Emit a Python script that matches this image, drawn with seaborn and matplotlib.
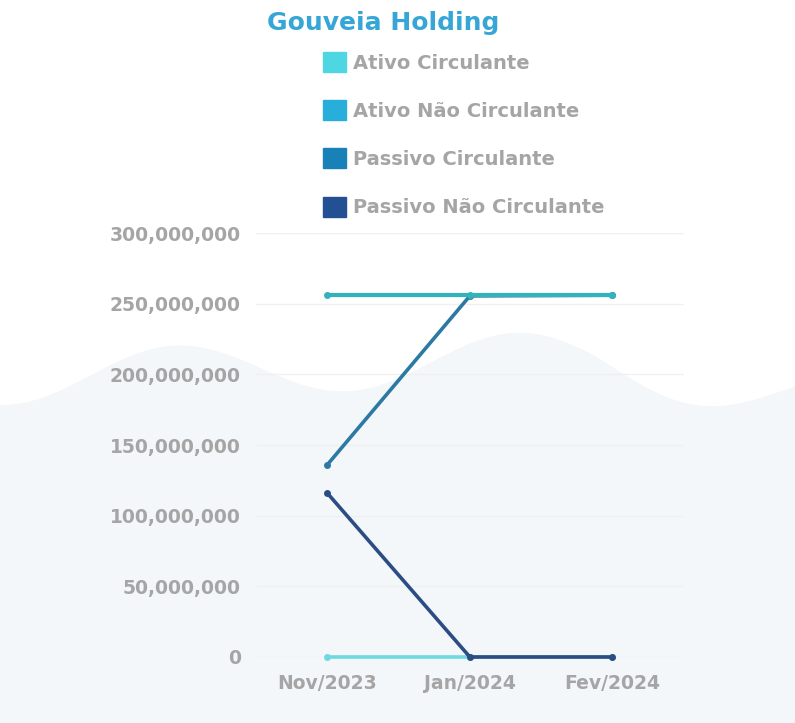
import matplotlib
matplotlib.use('Agg')
import matplotlib.pyplot as plt
import matplotlib.patches as mpatches
import seaborn as sns
import pandas as pd
import numpy as np

# dados
meses = ['Nov/2023', 'Jan/2024', 'Fev/2024']
ativo_circulante = [0, 0, 0]
ativo_nao_circulante = [256_000_000, 256_000_000, 256_000_000]
passivo_circulante = [136_000_000, 255_500_000, 256_000_000]
passivo_nao_circulante = [116_000_000, 0, 0]

series = ['Ativo Circulante', 'Ativo Não Circulante', 'Passivo Circulante', 'Passivo Não Circulante']
cores_legenda = ['#4fd6e3', '#27aedb', '#1781b8', '#234f93']
cores_linha = ['#6fd8e0', '#32b2bd', '#2c7aa3', '#2b4d84']
y_ticks = [0, 50_000_000, 100_000_000, 150_000_000, 200_000_000, 250_000_000, 300_000_000]

df = pd.DataFrame({
    'mes': meses * 4,
    'pos': list(range(len(meses))) * 4,
    'serie': np.repeat(series, len(meses)),
    'valor': ativo_circulante + ativo_nao_circulante + passivo_circulante + passivo_nao_circulante,
})

sns.set_theme(style='white')
plt.rcParams['font.family'] = ['DejaVu Sans']
cinza = '#a5a5a5'

fig = plt.figure(figsize=(7.95, 7.23), dpi=100)

# fundo ondulado suave
bg = fig.add_axes([0, 0, 1, 1], zorder=-1)
xs = np.linspace(0, 1, 400)
onda = (0.49 + 0.038 * np.cos(2 * np.pi * (xs - 0.22) / 0.435)
        + 0.012 * np.cos(2 * np.pi * (xs - 0.62) / 1.2)
        - 0.12 * np.clip(xs - 0.75, 0, None))
bg.fill_between(xs, 0, onda, color='#f3f7fa', lw=0)
bg.set_xlim(0, 1)
bg.set_ylim(0, 1)
bg.axis('off')

ax = fig.add_axes([0.322, 0.0913, 0.538, 0.5864])
ax.patch.set_alpha(0)

ordem = ['Ativo Circulante', 'Passivo Circulante', 'Ativo Não Circulante', 'Passivo Não Circulante']
for nome in ordem:
    i = series.index(nome)
    sub = df[df['serie'] == nome]
    sns.lineplot(data=sub, x='pos', y='valor', ax=ax, color=cores_linha[i],
                 lw=3 if nome == 'Ativo Não Circulante' else 2.6,
                 marker='o', markersize=5, markeredgewidth=0, legend=False, clip_on=False)

ax.set_xlim(-0.5, 2.5)
ax.set_ylim(0, 300_000_000)
ax.set_xticks(range(len(meses)))
ax.set_xticklabels(meses)
ax.set_yticks(y_ticks)
ax.set_yticklabels([f'{v:,}' for v in y_ticks])
ax.tick_params(axis='both', length=0, labelsize=13.5, labelcolor=cinza)
ax.tick_params(axis='y', pad=11)
ax.tick_params(axis='x', pad=12)
for lab in ax.get_xticklabels() + ax.get_yticklabels():
    lab.set_fontweight('bold')
ax.set_xlabel('')
ax.set_ylabel('')
ax.yaxis.grid(True, color='#f0f0f0', lw=1)
ax.xaxis.grid(False)
for s in ax.spines.values():
    s.set_visible(False)

fig.text(0.482, 0.968, 'Gouveia Holding', ha='center', va='center', fontsize=18,
         fontweight='bold', color='#35a6d6')

handles = [mpatches.Patch(color=c, label=l) for c, l in zip(cores_legenda, series)]
leg = fig.legend(handles=handles, loc='upper left', bbox_to_anchor=(0.384, 0.952),
                 frameon=False, handlelength=1.2, handleheight=1.2, handletextpad=0.35,
                 labelspacing=1.42, fontsize=14)
for t in leg.get_texts():
    t.set_color(cinza)
    t.set_fontweight('bold')

fig.savefig('out.png', dpi=100)
